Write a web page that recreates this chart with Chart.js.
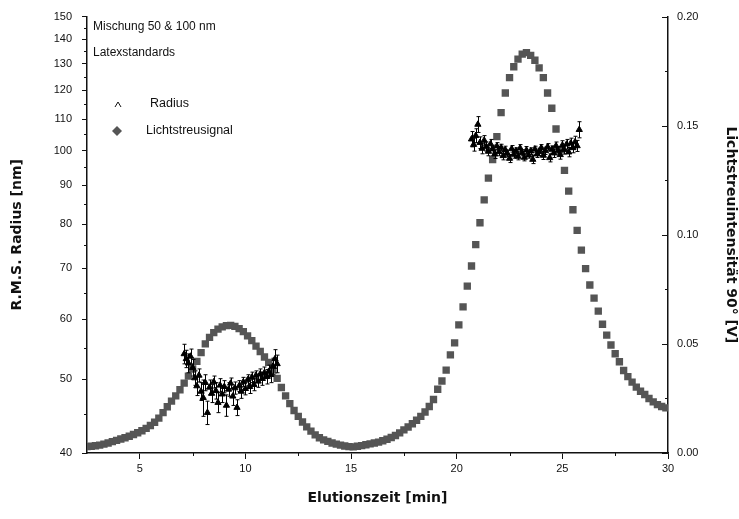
<!DOCTYPE html>
<html>
<head>
<meta charset="utf-8">
<script src="https://cdn.jsdelivr.net/npm/chart.js@4.4.1/dist/chart.umd.min.js"></script>
<style>
  html, body { margin: 0; padding: 0; background: #fff; }
  #wrap { width: 739px; height: 519px; }
</style>
</head>
<body>
<div id="wrap"><canvas id="lsChart" width="739" height="519"></canvas></div>
<script>
// Lichtstreusignal (rechte Achse, V) ueber Elutionszeit (min)
const lsTime = [
  2.5, 2.7, 2.9, 3.1, 3.3, 3.5, 3.7, 3.9, 4.1, 4.3, 4.5, 4.7, 4.9, 5.1, 5.3, 5.5, 5.7, 5.9,
  6.1, 6.3, 6.5, 6.7, 6.9, 7.1, 7.3, 7.5, 7.7, 7.9, 8.1, 8.3, 8.5, 8.7, 8.9, 9.1, 9.3, 9.5,
  9.7, 9.9, 10.1, 10.3, 10.5, 10.7, 10.9, 11.1, 11.3, 11.5, 11.7, 11.9, 12.1, 12.3, 12.5, 12.7,
  12.9, 13.1, 13.3, 13.5, 13.7, 13.9, 14.1, 14.3, 14.5, 14.7, 14.9, 15.1, 15.3, 15.5, 15.7, 15.9,
  16.1, 16.3, 16.5, 16.7, 16.9, 17.1, 17.3, 17.5, 17.7, 17.9, 18.1, 18.3, 18.5, 18.7, 18.9, 19.1,
  19.3, 19.5, 19.7, 19.9, 20.1, 20.3, 20.5, 20.7, 20.9, 21.1, 21.3, 21.5, 21.7, 21.9, 22.1, 22.3,
  22.5, 22.7, 22.9, 23.1, 23.3, 23.5, 23.7, 23.9, 24.1, 24.3, 24.5, 24.7, 24.9, 25.1, 25.3, 25.5,
  25.7, 25.9, 26.1, 26.3, 26.5, 26.7, 26.9, 27.1, 27.3, 27.5, 27.7, 27.9, 28.1, 28.3, 28.5, 28.7,
  28.9, 29.1, 29.3, 29.5, 29.7, 29.9
];
const lsSignal = [
  0.0029, 0.0031, 0.0033, 0.0036, 0.0041, 0.0046, 0.0052, 0.0058, 0.0064, 0.0070, 0.0077, 0.0085,
  0.0093, 0.0102, 0.0113, 0.0126, 0.0141, 0.0160, 0.0185, 0.0212, 0.0238, 0.0262, 0.0290, 0.0320,
  0.0352, 0.0385, 0.0420, 0.0460, 0.0500, 0.0530, 0.0552, 0.0568, 0.0578, 0.0584, 0.0585, 0.0580,
  0.0570, 0.0556, 0.0537, 0.0515, 0.0490, 0.0465, 0.0440, 0.0415, 0.0380, 0.0342, 0.0300, 0.0262,
  0.0226, 0.0195, 0.0168, 0.0142, 0.0120, 0.0100, 0.0083, 0.0070, 0.0060, 0.0053, 0.0046, 0.0041,
  0.0036, 0.0032, 0.0029, 0.0028, 0.0031, 0.0034, 0.0038, 0.0042, 0.0046, 0.0050, 0.0056, 0.0063,
  0.0071, 0.0080, 0.0092, 0.0106, 0.0119, 0.0134, 0.0150, 0.0168, 0.0188, 0.0213, 0.0245, 0.0292,
  0.0330, 0.0380, 0.0450, 0.0505, 0.0587, 0.0670, 0.0765, 0.0857, 0.0955, 0.1055, 0.1160, 0.1260,
  0.1345, 0.1450, 0.1560, 0.1650, 0.1720, 0.1770, 0.1805, 0.1828, 0.1835, 0.1822, 0.1800, 0.1765,
  0.1720, 0.1650, 0.1580, 0.1485, 0.1390, 0.1295, 0.1200, 0.1115, 0.1020, 0.0930, 0.0845, 0.0770,
  0.0710, 0.0650, 0.0590, 0.0540, 0.0495, 0.0455, 0.0418, 0.0378, 0.0350, 0.0325, 0.0302, 0.0283,
  0.0268, 0.0250, 0.0234, 0.0222, 0.0213, 0.0207
];

// R.M.S. Radius (linke Achse, nm) mit Fehler (nm)
const radTime = [
  7.1, 7.2, 7.3, 7.4, 7.5, 7.6, 7.7, 7.8, 7.9, 8.0, 8.1, 8.2, 8.3, 8.4, 8.5, 8.6, 8.7, 8.8, 8.9,
  9.0, 9.1, 9.2, 9.3, 9.4, 9.5, 9.6, 9.7, 9.8, 9.9, 10.0, 10.1, 10.2, 10.3, 10.4, 10.5, 10.6,
  10.7, 10.8, 10.9, 11.0, 11.1, 11.2, 11.3, 11.4, 11.5,
  20.7, 20.8, 20.9, 21.0, 21.1, 21.2, 21.3, 21.4, 21.5, 21.6, 21.7, 21.8, 21.9, 22.0, 22.1, 22.2,
  22.3, 22.4, 22.5, 22.6, 22.7, 22.8, 22.9, 23.0, 23.1, 23.2, 23.3, 23.4, 23.5, 23.6, 23.7, 23.8,
  23.9, 24.0, 24.1, 24.2, 24.3, 24.4, 24.5, 24.6, 24.7, 24.8, 24.9, 25.0, 25.1, 25.2, 25.3, 25.4,
  25.5, 25.6, 25.7, 25.8
];
const radValue = [
  54.0, 53.2, 52.5, 53.6, 51.8, 50.2, 49.0, 50.6, 48.2, 47.3, 49.5, 45.2, 48.8, 47.9, 49.6, 48.3,
  46.6, 49.1, 47.8, 48.9, 46.2, 48.5, 49.4, 47.5, 48.7, 45.9, 49.0, 48.2, 49.6, 48.6, 49.9, 48.9,
  50.3, 49.2, 50.6, 49.7, 50.8, 50.1, 51.0, 50.4, 51.2, 50.7, 52.0, 53.2, 52.4,
  103.5, 101.8, 104.6, 108.2, 102.4, 100.6, 103.1, 101.2, 99.7, 102.0, 100.4, 98.9, 101.3, 99.6,
  100.9, 98.4, 100.2, 99.1, 97.6, 100.5, 98.8, 99.9, 98.2, 100.7, 99.3, 97.9, 100.1, 98.6, 99.8,
  97.3, 100.4, 98.9, 99.6, 100.8, 98.5, 99.9, 101.1, 97.8, 100.3, 99.2, 101.4, 100.0, 98.7, 101.6,
  100.2, 101.9, 99.5, 102.2, 100.8, 102.6, 101.4, 106.5
];
const radError = [
  1.6, 1.4, 1.5, 1.2, 1.3, 1.1, 1.4, 1.0, 1.3, 2.6, 1.2, 1.6, 1.1, 1.3, 0.9, 1.2,
  1.4, 1.0, 1.2, 0.9, 1.5, 1.0, 0.8, 1.3, 0.9, 1.1, 0.8, 1.0, 0.7, 0.9, 0.8, 1.0,
  0.8, 0.9, 0.7, 0.9, 0.8, 1.0, 0.9, 1.1, 1.0, 1.2, 1.3, 1.5, 1.4,
  2.4, 2.0, 2.2, 2.6, 1.8, 1.6, 1.5, 1.4, 1.3, 1.4, 1.2, 1.3, 1.1, 1.2, 1.0, 1.2,
  1.1, 1.0, 1.2, 1.0, 1.1, 0.9, 1.0, 1.1, 0.9, 1.0, 1.1, 0.9, 1.0, 1.2, 0.9, 1.0,
  1.1, 1.0, 1.2, 1.1, 1.0, 1.2, 1.1, 1.3, 1.2, 1.1, 1.3, 1.4, 1.3, 1.5, 1.4, 1.6,
  1.5, 1.8, 1.7, 2.6
];

// Achsenbeschriftungen
const timeTicks = [5, 10, 15, 20, 25, 30];
const timeMinor = [7.5, 12.5, 17.5, 22.5, 27.5];
const radiusTicks = [40, 50, 60, 70, 80, 90, 100, 110, 120, 130, 140, 150];
const radiusMinor = [45, 55, 65, 75, 85, 95, 105, 115, 125, 135, 145];
const signalTicks = [0, 0.05, 0.10, 0.15, 0.20];
const signalMinor = [0.025, 0.075, 0.125, 0.175];

const noteLines = ['Mischung 50 & 100 nm', 'Latexstandards'];

const FONT = "'Liberation Sans', Arial, sans-serif";
const TITLE_FONT = "'DejaVu Sans', 'Liberation Sans', sans-serif";
const INK = '#111';
const LS_COLOR = '#555555';

// Fehlerbalken fuer den Radius
const errorBarPlugin = {
  id: 'errorBars',
  beforeDatasetDraw(chart, args) {
    if (args.index !== 0) return;
    const sx = chart.scales.x, sy = chart.scales.y;
    const c = chart.ctx;
    c.save();
    c.strokeStyle = '#000';
    c.lineWidth = 1;
    c.beginPath();
    radTime.forEach((t, i) => {
      const px = Math.round(sx.getPixelForValue(t)) + 0.5;
      const top = sy.getPixelForValue(radValue[i] + radError[i]);
      const bot = sy.getPixelForValue(radValue[i] - radError[i]);
      c.moveTo(px, top); c.lineTo(px, bot);
      c.moveTo(px - 2, top); c.lineTo(px + 2, top);
      c.moveTo(px - 2, bot); c.lineTo(px + 2, bot);
    });
    c.stroke();
    c.restore();
  }
};

// kleine Striche und Textbox im Diagramm
const extrasPlugin = {
  id: 'extras',
  afterDraw(chart) {
    const c = chart.ctx;
    const a = chart.chartArea;
    const sx = chart.scales.x, sy = chart.scales.y, sr = chart.scales.y1;
    c.save();
    c.strokeStyle = INK;
    c.lineWidth = 1;
    c.beginPath();
    timeMinor.forEach(v => {
      const px = Math.round(sx.getPixelForValue(v)) + 0.5;
      c.moveTo(px, a.bottom); c.lineTo(px, a.bottom + 3);
    });
    radiusMinor.forEach(v => {
      const py = Math.round(sy.getPixelForValue(v)) + 0.5;
      c.moveTo(a.left, py); c.lineTo(a.left - 3, py);
    });
    signalTicks.forEach(v => {
      const py = Math.round(sr.getPixelForValue(v)) + 0.5;
      c.moveTo(a.right, py); c.lineTo(a.right - 6, py);
    });
    signalMinor.forEach(v => {
      const py = Math.round(sr.getPixelForValue(v)) + 0.5;
      c.moveTo(a.right, py); c.lineTo(a.right - 3, py);
    });
    c.stroke();

    // Beschriftung oben links
    c.fillStyle = INK;
    c.font = '12px ' + FONT;
    c.textBaseline = 'middle';
    c.textAlign = 'left';
    c.fillText(noteLines[0], a.left + 6, 27);
    c.fillText(noteLines[1], a.left + 6, 53);

    // Legende
    const ds = chart.data.datasets;
    c.font = '12.5px ' + FONT;
    c.fillText(ds[0].label, 150, 104);
    c.fillText(ds[1].label, 146, 131);
    c.strokeStyle = INK;
    c.beginPath();
    c.moveTo(115, 107); c.lineTo(118, 102); c.lineTo(121, 107);
    c.stroke();
    c.fillStyle = LS_COLOR;
    c.beginPath();
    c.moveTo(112, 131); c.lineTo(117, 126); c.lineTo(122, 131); c.lineTo(117, 136);
    c.closePath();
    c.fill();
    c.restore();
  }
};

const ctx = document.getElementById('lsChart').getContext('2d');
const chart = new Chart(ctx, {
  type: 'scatter',
  data: {
    datasets: [{
      label: 'Radius',
      data: radTime.map((t, i) => ({ x: t, y: radValue[i] })),
      yAxisID: 'y',
      pointStyle: 'triangle',
      pointRadius: 3.6,
      backgroundColor: '#000',
      borderColor: '#000',
      borderWidth: 1,
      order: 0
    }, {
      label: 'Lichtstreusignal',
      data: lsTime.map((t, i) => ({ x: t, y: lsSignal[i] })),
      yAxisID: 'y1',
      pointStyle: 'rect',
      pointRadius: 5.2,
      backgroundColor: LS_COLOR,
      borderColor: LS_COLOR,
      borderWidth: 0,
      order: 1
    }]
  },
  options: {
    responsive: false,
    animation: false,
    layout: { padding: { top: 15, left: 0, right: 0, bottom: 0 } },
    plugins: { legend: { display: false }, tooltip: { enabled: false } },
    scales: {
      x: {
        type: 'linear',
        min: 2.5,
        max: 30,
        afterBuildTicks: s => { s.ticks = timeTicks.map(v => ({ value: v })); },
        afterFit: s => { s.height = 66; },
        grid: { drawOnChartArea: false, drawTicks: true, tickLength: 6, color: INK },
        border: { display: true, color: INK, width: 1.5 },
        ticks: { color: INK, font: { family: FONT, size: 11 }, padding: 3, callback: v => String(v) },
        title: {
          display: true, text: 'Elutionszeit [min]', color: INK,
          font: { family: TITLE_FONT, size: 14, weight: 'bold' }, padding: { top: 0, bottom: 12 }
        }
      },
      y: {
        type: 'logarithmic',
        position: 'left',
        min: 40,
        max: 150,
        afterBuildTicks: s => { s.ticks = radiusTicks.map(v => ({ value: v })); },
        afterFit: s => { s.width = 87; },
        grid: { drawOnChartArea: false, drawTicks: true, tickLength: 5, color: INK },
        border: { display: true, color: INK, width: 1.5 },
        ticks: { color: INK, font: { family: FONT, size: 11 }, padding: 10, autoSkip: false, callback: v => String(v) },
        title: {
          display: true, text: 'R.M.S. Radius [nm]', color: INK,
          font: { family: TITLE_FONT, size: 14, weight: 'bold' }, padding: { top: 9, bottom: 0 }
        }
      },
      y1: {
        type: 'linear',
        position: 'right',
        min: 0,
        max: 0.2,
        afterBuildTicks: s => { s.ticks = signalTicks.map(v => ({ value: v })); },
        afterFit: s => { s.width = 71; },
        grid: { display: true, drawOnChartArea: false, drawTicks: false, color: INK },
        border: { display: true, color: INK, width: 1.5 },
        ticks: { color: INK, font: { family: FONT, size: 11 }, padding: 9, callback: v => v.toFixed(2) },
        title: {
          display: true, text: 'Lichtstreuintensität 90° [V]', color: INK,
          font: { family: TITLE_FONT, size: 14, weight: 'bold' }, padding: { top: 0, bottom: 6 }
        }
      }
    }
  },
  plugins: [errorBarPlugin, extrasPlugin]
});
</script>
</body>
</html>
